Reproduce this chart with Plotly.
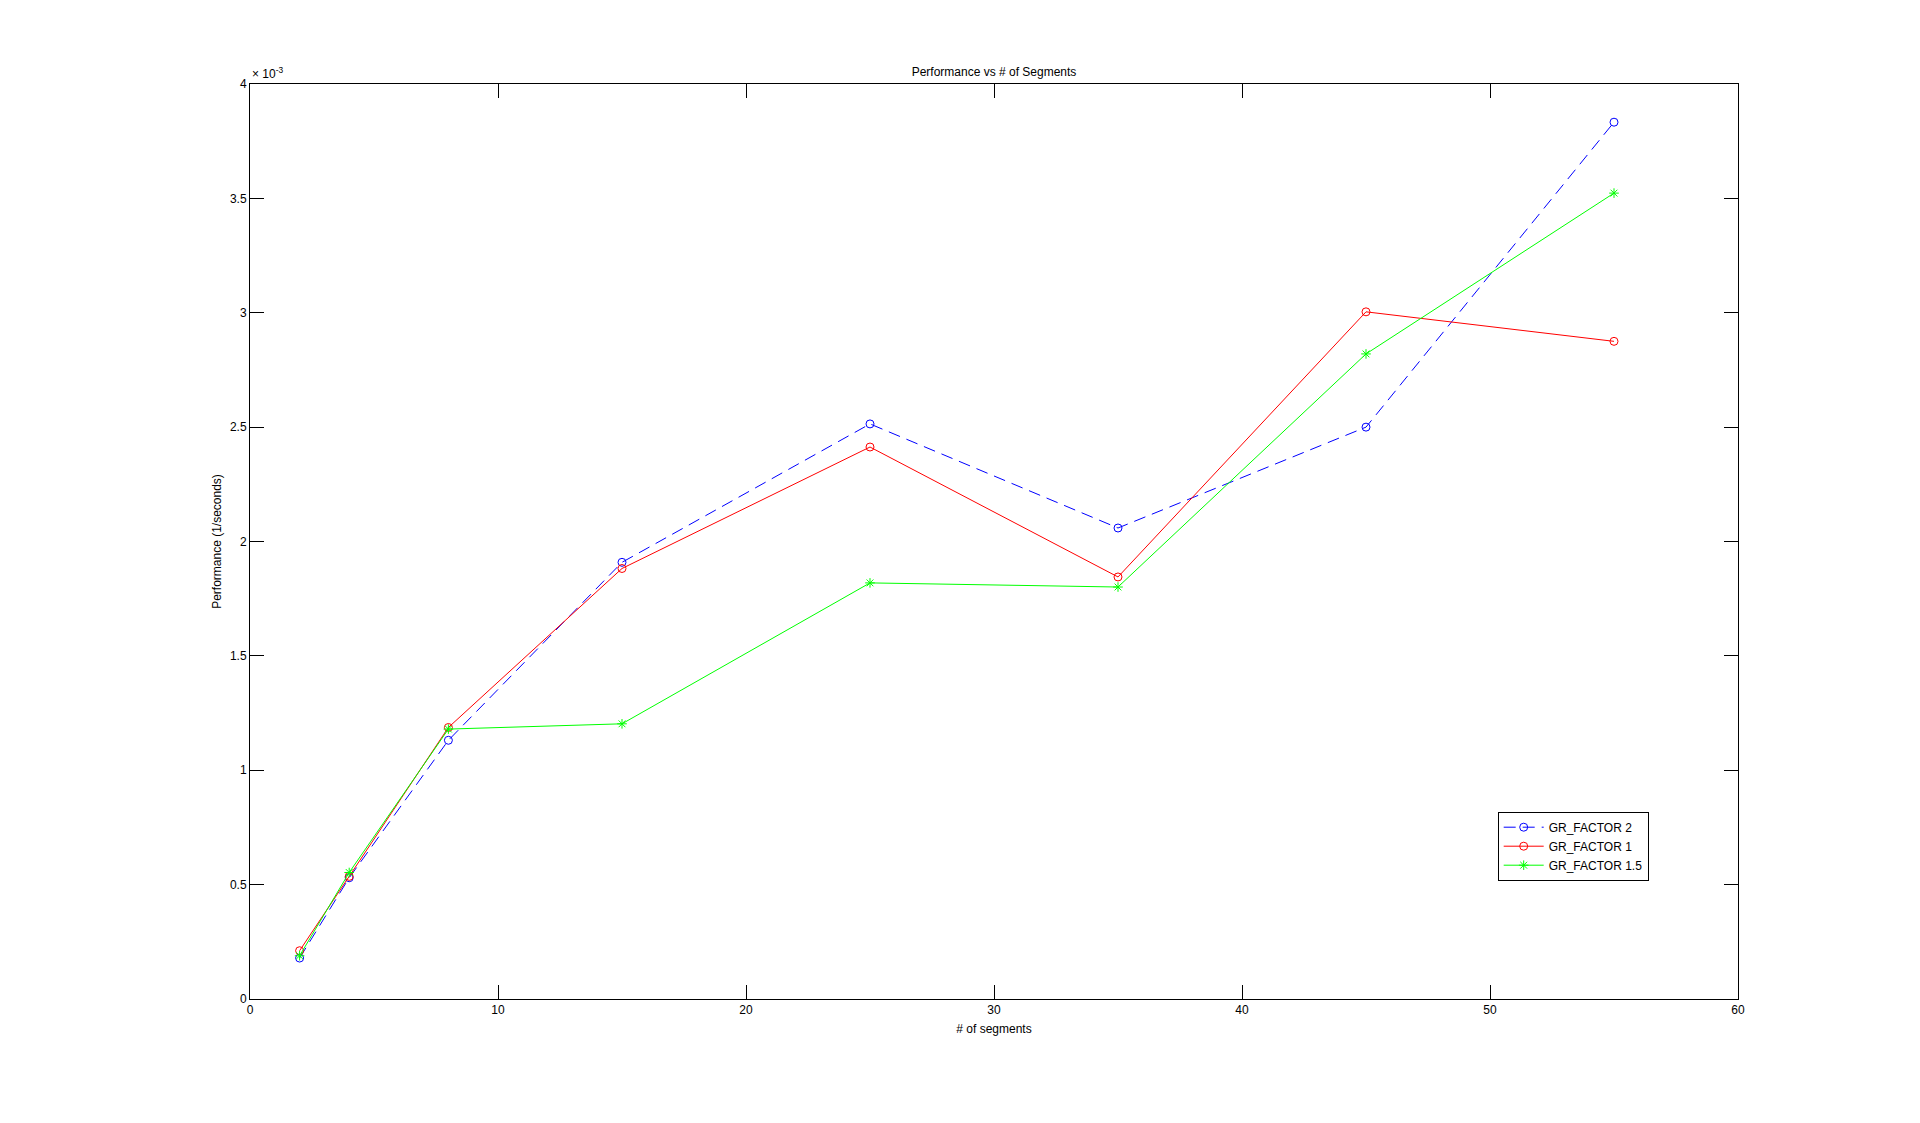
import plotly.graph_objects as go

segments = [2, 4, 8, 15, 25, 35, 45, 55]
gr_factor_2 = [0.179, 0.530, 1.131, 1.909, 2.514, 2.059, 2.500, 3.833]
gr_factor_1 = [0.211, 0.536, 1.187, 1.882, 2.413, 1.845, 3.004, 2.875]
gr_factor_15 = [0.189, 0.553, 1.180, 1.203, 1.819, 1.801, 2.820, 3.523]

x_ticks = [0, 10, 20, 30, 40, 50, 60]
y_ticks = [0, 0.5, 1, 1.5, 2, 2.5, 3, 3.5, 4]
y_tick_labels = ["0", "0.5", "1", "1.5", "2", "2.5", "3", "3.5", "4"]

FONT = "Liberation Sans, Arial, sans-serif"

fig = go.Figure()
fig.add_trace(go.Scatter(
    x=segments, y=gr_factor_2, name="GR_FACTOR 2", mode="lines+markers",
    line=dict(color="#0000ff", width=1, dash="12px,7px"),
    marker=dict(symbol="circle-open", size=8, color="#0000ff", line=dict(width=1)),
))
fig.add_trace(go.Scatter(
    x=segments, y=gr_factor_1, name="GR_FACTOR 1", mode="lines+markers",
    line=dict(color="#ff0000", width=1),
    marker=dict(symbol="circle-open", size=8, color="#ff0000", line=dict(width=1)),
))
fig.add_trace(go.Scatter(
    x=segments, y=gr_factor_15, name="GR_FACTOR 1.5", mode="lines+markers",
    line=dict(color="#00ff00", width=1),
    marker=dict(symbol="asterisk-open", size=8, color="#00ff00", line=dict(width=1, color="#00ff00")),
))

axis_common = dict(
    showline=True, linecolor="black", linewidth=1, mirror="ticks",
    ticks="inside", ticklen=14, tickwidth=1, tickcolor="black",
    showgrid=False, zeroline=False,
    tickfont=dict(family=FONT, size=12, color="black"),
)

fig.update_layout(
    width=1920, height=1123,
    paper_bgcolor="white", plot_bgcolor="white",
    margin=dict(l=242, r=190, t=76, b=132),
    title=dict(text="Performance vs # of Segments", x=0.5, xref="paper", xanchor="center",
               y=1, yref="paper", yanchor="bottom", pad=dict(b=8),
               font=dict(family=FONT, size=12, color="black")),
    xaxis=dict(range=[0, 60], tickvals=x_ticks,
               title=dict(text="# of segments", font=dict(family=FONT, size=12, color="black"), standoff=8),
               **axis_common),
    yaxis=dict(range=[0, 4], tickvals=y_ticks, ticktext=y_tick_labels,
               title=dict(text="Performance (1/seconds)", font=dict(family=FONT, size=12, color="black"), standoff=5),
               **axis_common),
    legend=dict(x=0.8385, y=0.2047, xanchor="left", yanchor="top",
                bgcolor="white", bordercolor="black", borderwidth=1,
                font=dict(family=FONT, size=12, color="black"),
                tracegroupgap=0, itemwidth=40),
    showlegend=True,
    annotations=[dict(text="\u00d7 10<sup>-3</sup>", xref="paper", yref="paper", x=0, y=1,
                      xanchor="left", yanchor="bottom", showarrow=False,
                      font=dict(family=FONT, size=12, color="black"), yshift=1)],
)

fig.write_html("out.html")
